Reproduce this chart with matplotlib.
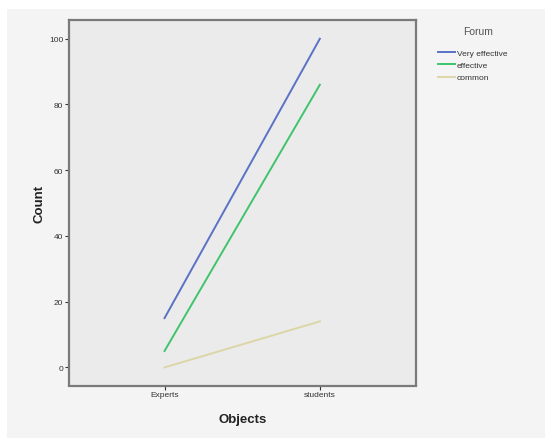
import matplotlib
matplotlib.use("Agg")
import matplotlib.pyplot as plt
from matplotlib.patches import Rectangle

plt.rcParams['font.family'] = ['Liberation Sans', 'DejaVu Sans']

objects = ["Experts", "students"]
very_effective = [15, 100]
effective = [5, 86]
common = [0, 14]
series_names = ["Very effective", "effective", "common"]
colors = ["#5a72c6", "#3fc46c", "#dcd6a6"]

fig = plt.figure(figsize=(5.45, 4.39), dpi=100)
fig.patch.set_facecolor("white")
fig.patches.append(Rectangle((7/545, 0), 1 - 7/545, 429/439,
                             transform=fig.transFigure, facecolor="#f4f4f4",
                             edgecolor="none", zorder=-10))

ax = fig.add_axes([69/545, 1 - 386.5/439, 347/545, 365.5/439])
ax.set_zorder(1)
ax.set_facecolor("#ebebeb")
x = range(len(objects))
for vals, name, c in zip([very_effective, effective, common], series_names, colors):
    ax.plot(x, vals, color=c, lw=1.4, label=name)

ax.set_xlim(-0.615, 1.619)
ax.set_ylim(-5.5, 105.7)
ax.set_xticks(list(x))
ax.set_xticklabels(objects)
ax.set_yticks([0, 20, 40, 60, 80, 100])
ax.tick_params(labelsize=6, colors="#333333", length=3, width=0.8, pad=1)
for s in ax.spines.values():
    s.set_color("#7a7a7a")
    s.set_linewidth(1.6)
ax.set_xlabel("Objects", fontsize=9.5, fontweight="bold", color="#222222", labelpad=10.5)
ax.set_ylabel("Count", fontsize=9.5, fontweight="bold", color="#222222", labelpad=3)

fig.text(478/545, 1 - 32/439, "Forum", fontsize=7.5, color="#555555",
         ha="center", va="center")
leg = fig.legend(loc="upper left", bbox_to_anchor=(435/545, 1 - 46.5/439),
                 fontsize=6, frameon=False, borderaxespad=0,
                 handlelength=2.0, handletextpad=0.2, labelspacing=0.55)
for t in leg.get_texts():
    t.set_color("#333333")

fig.savefig("out.png", dpi=100)
